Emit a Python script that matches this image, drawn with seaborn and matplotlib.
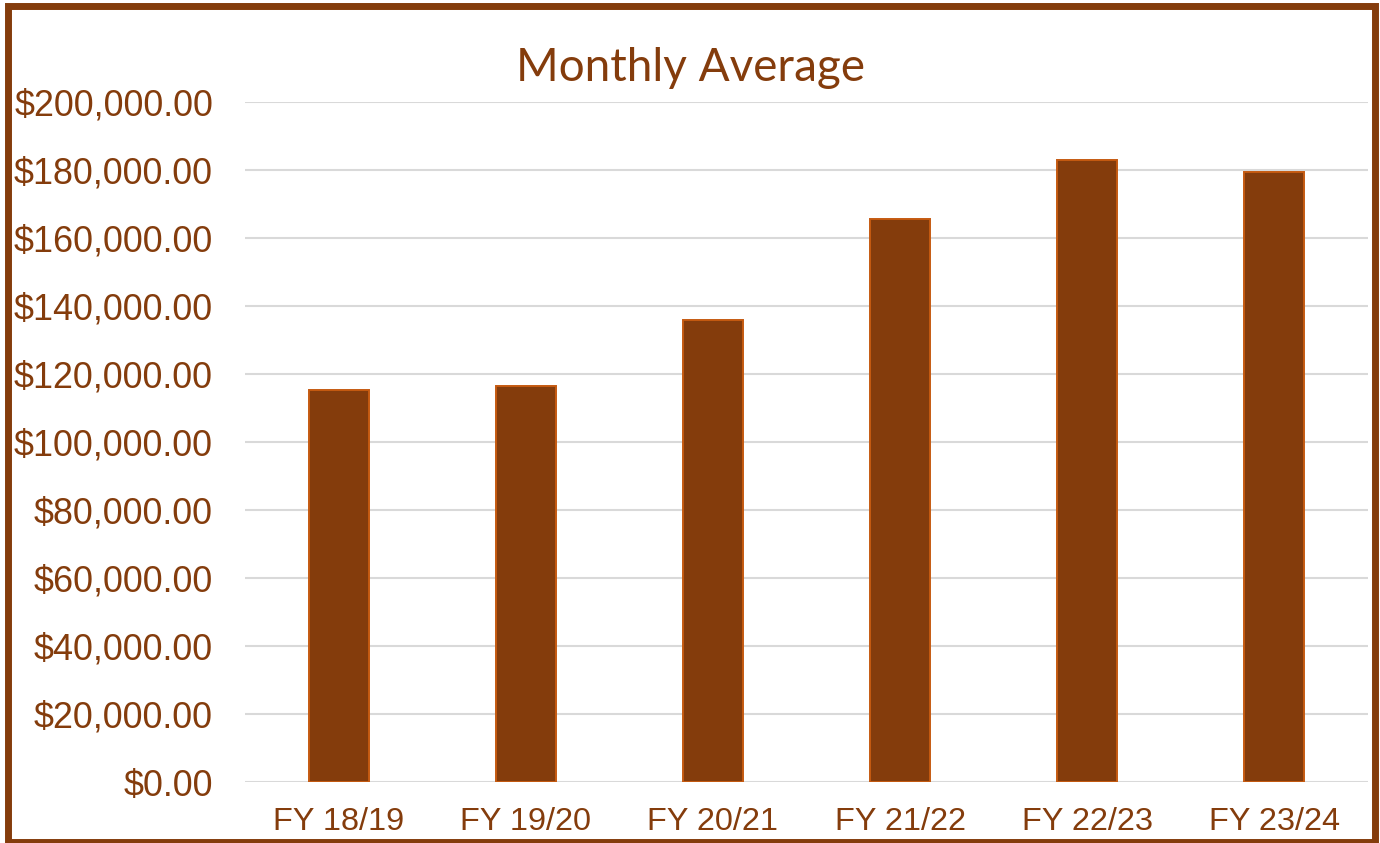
import matplotlib
matplotlib.use("Agg")
import matplotlib.pyplot as plt
import matplotlib.patches as mpatches
from matplotlib.ticker import FuncFormatter
import seaborn as sns
import pandas as pd

categories = ["FY 18/19", "FY 19/20", "FY 20/21", "FY 21/22", "FY 22/23", "FY 23/24"]
values = [115400, 116500, 135800, 165500, 182800, 179500]
y_ticks = [0, 20000, 40000, 60000, 80000, 100000, 120000, 140000, 160000, 180000, 200000]
title = "Monthly Average"

BROWN = "#843C0C"
EDGE = "#C55A11"

sns.set_theme(style="white")
plt.rcParams['font.family'] = ['Liberation Sans', 'DejaVu Sans']

df = pd.DataFrame({"cat": categories, "val": values})

fig = plt.figure(figsize=(13.8, 8.43), dpi=100)
ax = fig.add_axes([245/1380, 1-782/843, (1368-245)/1380, (782-102)/843])

sns.barplot(data=df, x="cat", y="val", color=BROWN, saturation=1, width=0.32,
            edgecolor=EDGE, linewidth=1.4, ax=ax, zorder=3)

ax.set_ylim(0, 200000)
ax.set_xlim(-0.5, len(categories) - 0.5)
ax.set_yticks(y_ticks)
ax.yaxis.set_major_formatter(FuncFormatter(lambda v, p: f"${v:,.2f}"))
ax.grid(axis="y", color="#D9D9D9", linewidth=1.5, zorder=0)
ax.grid(axis="x", visible=False)
for s in ax.spines.values():
    s.set_visible(False)
ax.tick_params(axis="y", length=0, pad=23, labelsize=25.8, labelcolor=BROWN)
ax.tick_params(axis="x", length=0, pad=18, labelsize=23.4, labelcolor=BROWN)
ax.set_xlabel("")
ax.set_ylabel("")

fig.text(0.5, 1-68/843, title, ha="center", va="center", fontsize=33,
         color=BROWN, family=['Lato', 'DejaVu Sans'])

rect = mpatches.Rectangle((7.5/1380, 1-842/843), (1374.5-7.5)/1380, (842-5.5)/843,
                          transform=fig.transFigure, fill=False, edgecolor=BROWN,
                          linewidth=5, zorder=10)
fig.patches.append(rect)

fig.savefig("out.png", dpi=100)
